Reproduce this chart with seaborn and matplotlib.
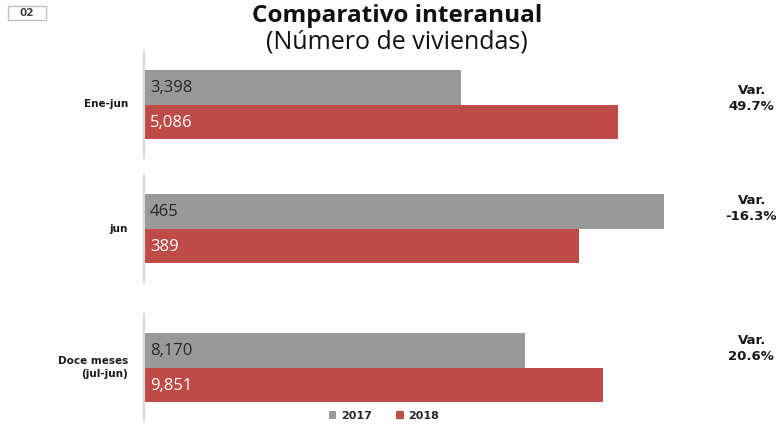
import matplotlib
matplotlib.use("Agg")
import matplotlib.pyplot as plt
from matplotlib.patches import Patch, Rectangle
import seaborn as sns
import pandas as pd

# ---- data ----
periods = ["Ene-jun", "jun", "Doce meses\n(jul-jun)"]
years = ["2017", "2018"]
values_2017 = [3398, 465, 8170]
values_2018 = [5086, 389, 9851]
colors = {"2017": "#999999", "2018": "#be4b48"}
label_colors = {"2017": "#262626", "2018": "white"}
# per-panel x-axis maximum (each panel has its own scale)
x_max = [5960, 497, 11930]

W, H = 779, 426
fig = plt.figure(figsize=(W / 100, H / 100), dpi=100)
sns.set_style("white")
plt.rcParams["font.family"] = ["Open Sans", "DejaVu Sans"]


def fx(px):
    return px / W


def fy(py):
    return 1 - py / H


# panel vertical extents in pixels (top, bottom)
panel_px = [(51, 158), (175, 282), (314, 421)]
var_y_px = [91, 200, 340]
left_px, right_px = 144, 700

for i, period in enumerate(periods):
    top, bot = panel_px[i]
    ax = fig.add_axes([fx(left_px), fy(bot), fx(right_px - left_px), (bot - top) / H])
    df = pd.DataFrame({"year": years, "value": [values_2017[i], values_2018[i]]})
    sns.barplot(data=df, x="value", y="year", hue="year", palette=colors,
                order=years, hue_order=years, orient="h", width=1.0,
                legend=False, ax=ax, saturation=1, edgecolor="none")
    ax.set_xlim(0, x_max[i])
    ax.set_ylim(2.03, -1.03)
    for s in ["top", "right", "bottom"]:
        ax.spines[s].set_visible(False)
    ax.spines["left"].set_color("#d9d9d9")
    ax.spines["left"].set_linewidth(1.5)
    ax.set_xticks([])
    ax.set_yticks([])
    ax.set_xlabel("")
    ax.set_ylabel("")
    ax.patch.set_alpha(0)
    for j, y in enumerate(years):
        v = df["value"][j]
        ax.text(x_max[i] * 6 / (right_px - left_px), j + 0.03, f"{v:,}",
                va="center", ha="left", fontsize=12, color=label_colors[y])
    # category label
    fig.text(fx(128), fy((top + bot) / 2), period, ha="right", va="center",
             fontsize=7.5, fontweight="bold", family="DejaVu Sans",
             linespacing=1.3, color="#1a1a1a")
    # variation label
    var = (values_2018[i] / values_2017[i] - 1) * 100
    fig.text(fx(752), fy(var_y_px[i]), "Var.", ha="center", va="center",
             fontsize=9.5, fontweight="bold", family="DejaVu Sans", color="#1a1a1a")
    fig.text(fx(751), fy(var_y_px[i] + 16), f"{var:.1f}%", ha="center", va="center",
             fontsize=9.5, fontweight="bold", family="DejaVu Sans", color="#1a1a1a")

# title
fig.text(fx(397), fy(16), "Comparativo interanual", ha="center", va="center",
         fontsize=17.5, fontweight="bold", color="#111111")
fig.text(fx(397), fy(42), "(Número de viviendas)", ha="center", va="center",
         fontsize=18, color="#111111")

# "02" box
fig.add_artist(Rectangle((fx(8), fy(20)), fx(38), 14 / H, transform=fig.transFigure,
                         facecolor="white", edgecolor="#c0c0c0", linewidth=1))
fig.text(fx(27), fy(13), "02", ha="center", va="center", fontsize=7.5,
         fontweight="bold", family="DejaVu Sans", color="#404040")

# legend
handles = [Patch(facecolor=colors[y], edgecolor="none", label=y) for y in years]
leg = fig.legend(handles=handles, loc="center", bbox_to_anchor=(fx(384), fy(416)),
                 ncol=2, frameon=False, handlelength=0.7, handleheight=0.7,
                 handletextpad=0.4, columnspacing=2.2,
                 prop={"family": "DejaVu Sans", "weight": "bold", "size": 8})

fig.savefig("out.png", dpi=100)
